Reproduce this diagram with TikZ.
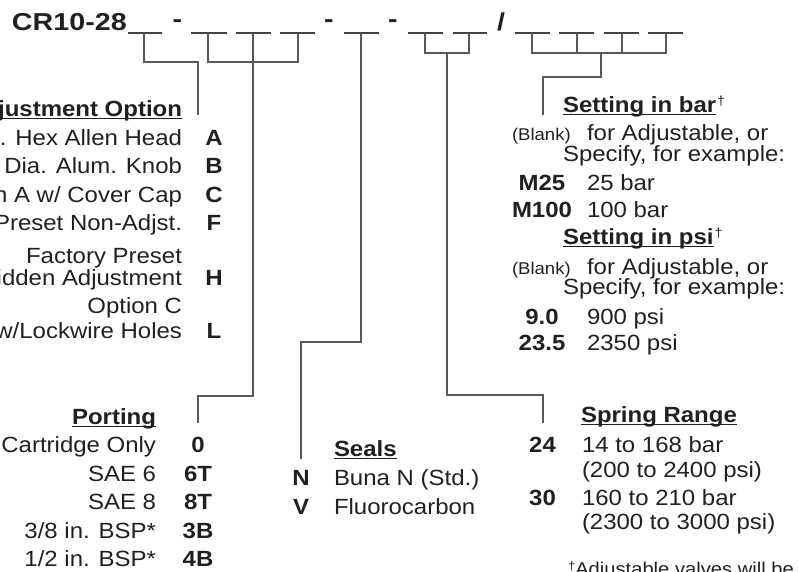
\documentclass[tikz,border=0pt]{standalone}
\usepackage{fontspec}
\setmainfont{Liberation Sans}[FakeStretch=1.09]
\newfontfamily\titlefont{Liberation Sans}[FakeStretch=1.17]
\definecolor{ink}{HTML}{231F20}
\definecolor{wire}{HTML}{58595B}
\begin{document}
\begin{tikzpicture}[x=1pt,y=-1pt,
  every node/.style={inner sep=0pt, outer sep=0pt, text=ink},
  tbody/.style={font=\fontsize{22}{26}\selectfont},
  tbold/.style={font=\fontsize{22}{26}\selectfont\bfseries},
  tsmall/.style={font=\fontsize{17}{20}\selectfont},
  tnote/.style={font=\fontsize{18.5}{22}\selectfont},
  ttitle/.style={font=\titlefont\fontsize{24.5}{28}\selectfont\bfseries},
  rt/.style={anchor=base east},
  lt/.style={anchor=base west},
  ct/.style={anchor=base},
  conn/.style={draw=wire, line width=1.5pt},
  blankln/.style={draw=ink!85, line width=1.4pt},
  uline/.style={draw=ink, line width=1.3pt},
  dag/.style={font=\fontsize{13}{15}\selectfont, anchor=base west}
]
\useasboundingbox (0,0) rectangle (798,571);
\clip (0,0) rectangle (798,571);

% ---------- title and blanks ----------
\node[ttitle, lt] (title) at (12,30.5) {CR10-28};
\node[ttitle, ct] (d1) at (177.5,27) {-};
\node[ttitle, ct] (d2) at (329,27) {-};
\node[ttitle, ct] (d3) at (393,27) {-};
\node[ttitle, ct] (sl) at (501,30.5) {/};

\foreach \a/\b in {128/162,191/227,236/271,280/315,344/379,408/443,453/487,515/550,559/594,604/639,648/683}
  \draw[blankln] (\a,33) -- (\b,33);

\coordinate (u1) at (144,33);
\coordinate (u2) at (208,33);
\coordinate (u3) at (253,33);
\coordinate (u4) at (298,33);
\coordinate (u5) at (361,33);
\coordinate (u6) at (425,33);
\coordinate (u7) at (469,33);
\coordinate (u8) at (532,33);
\coordinate (u9) at (577,33);
\coordinate (u10) at (622,33);
\coordinate (u11) at (666,33);
\coordinate (sprm) at (447,53);
\coordinate (setm) at (601,53);

\coordinate (adjt) at (198,115);
\coordinate (portt) at (198,423);
\coordinate (sealt) at (301,459);
\coordinate (sprt) at (543,423);
\coordinate (sett) at (543,115);

% ---------- connectors ----------
\draw[conn] (u1) -- ++(0,29) -| (adjt);
\draw[conn] (u2) -- ++(0,29) -| (u4);
\draw[conn] (u3) -- ++(0,363) -| (portt);
\draw[conn] (u5) -- ++(0,309) -| (sealt);
\draw[conn] (u6) -- ++(0,20) -| (u7);
\draw[conn] (sprm) -- ++(0,342) -| (sprt);
\draw[conn] (u8) -- ++(0,20) -| (u11);
\draw[conn] (u9) -- ++(0,20);
\draw[conn] (u10) -- ++(0,20);
\draw[conn] (setm) -- ++(0,24) -| (sett);

% ---------- Adjustment Option ----------
\node[tbold, rt] (adjh) at (182,116) {justment Option};
\draw[uline] ([yshift=-2.5pt]adjh.base west) -- ([yshift=-2.5pt]adjh.base east);
\node[tbody, rt] (a1) at (182,145) {n. Hex Allen Head};
\node[tbody, rt] (a2) at (182,173) {. Dia. Alum. Knob};
\node[tbody, rt] (a3) at (182,202) {n A w/ Cover Cap};
\node[tbody, rt] (a4) at (182,230) {Preset Non-Adjst.};
\node[tbody, rt] (a5) at (182,263) {Factory Preset};
\node[tbody, rt] (a6) at (182,285) {idden Adjustment};
\node[tbody, rt] (a7) at (182,313) {Option C};
\node[tbody, rt] (a8) at (182,338) {w/Lockwire Holes};
\node[tbold, ct] (ka) at (214,145) {A};
\node[tbold, ct] (kb) at (214,173) {B};
\node[tbold, ct] (kc) at (214,202) {C};
\node[tbold, ct] (kf) at (214,230) {F};
\node[tbold, ct] (kh) at (214,285) {H};
\node[tbold, ct] (kl) at (214,338) {L};

% ---------- Porting ----------
\node[tbold, rt] (porth) at (156,424) {Porting};
\draw[uline] ([yshift=-2.5pt]porth.base west) -- ([yshift=-2.5pt]porth.base east);
\node[tbody, rt] (p1) at (156,452) {Cartridge Only};
\node[tbody, rt] (p2) at (156,481) {SAE 6};
\node[tbody, rt] (p3) at (156,509) {SAE 8};
\node[tbody, rt] (p4) at (156,538) {3/8 in. BSP*};
\node[tbody, rt] (p5) at (156,566) {1/2 in. BSP*};
\node[tbold, ct] (k0) at (198,452) {0};
\node[tbold, ct] (k6t) at (198,481) {6T};
\node[tbold, ct] (k8t) at (198,509) {8T};
\node[tbold, ct] (k3b) at (198,538) {3B};
\node[tbold, ct] (k4b) at (198,566) {4B};

% ---------- Seals ----------
\node[tbold, lt] (sealh) at (334,456) {Seals};
\draw[uline] ([yshift=-2.5pt]sealh.base west) -- ([yshift=-2.5pt]sealh.base east);
\node[tbold, ct] (kn) at (301,485) {N};
\node[tbody, lt] (s1) at (334,485) {Buna N (Std.)};
\node[tbold, ct] (kv) at (301,514) {V};
\node[tbody, lt] (s2) at (334,514) {Fluorocarbon};

% ---------- Setting in bar ----------
\node[tbold, lt] (barh) at (563,112) {Setting in bar};
\draw[uline] ([yshift=-2.8pt]barh.base west) -- ([yshift=-2.8pt]barh.base east);
\node[dag] (bard) at ([xshift=1pt,yshift=7pt]barh.base east) {†};
\node[tsmall, lt] (b0) at (512,140) {(Blank)};
\node[tbody, lt] (b1) at (587,140) {for Adjustable, or};
\node[tbody, lt] (b2) at (563,161.5) {Specify, for example:};
\node[tbold, ct] (km25) at (542,190.5) {M25};
\node[tbody, lt] (b3) at (587,190.5) {25 bar};
\node[tbold, ct] (km100) at (542,217.5) {M100};
\node[tbody, lt] (b4) at (587,217.5) {100 bar};

% ---------- Setting in psi ----------
\node[tbold, lt] (psih) at (563,244) {Setting in psi};
\draw[uline] ([yshift=-2.8pt]psih.base west) -- ([yshift=-2.8pt]psih.base east);
\node[dag] (psid) at ([xshift=1pt,yshift=7pt]psih.base east) {†};
\node[tsmall, lt] (q0) at (512,274) {(Blank)};
\node[tbody, lt] (q1) at (587,274) {for Adjustable, or};
\node[tbody, lt] (q2) at (563,294.5) {Specify, for example:};
\node[tbold, ct] (k90) at (542,324) {9.0};
\node[tbody, lt] (q3) at (587,324) {900 psi};
\node[tbold, ct] (k235) at (542,350) {23.5};
\node[tbody, lt] (q4) at (587,350) {2350 psi};

% ---------- Spring Range ----------
\node[tbold, lt] (sprh) at (581,422) {Spring Range};
\draw[uline] ([yshift=-2.8pt]sprh.base west) -- ([yshift=-2.8pt]sprh.base east);
\node[tbold, ct] (k24) at (542.5,452) {24};
\node[tbody, lt] (r1) at (582,452) {14 to 168 bar};
\node[tbody, lt] (r2) at (582,477) {(200 to 2400 psi)};
\node[tbold, ct] (k30) at (542.5,505) {30};
\node[tbody, lt] (r3) at (582,505) {160 to 210 bar};
\node[tbody, lt] (r4) at (582,529) {(2300 to 3000 psi)};

% ---------- footnote ----------
\node[tnote, lt] (fn) at (568,575) {\raisebox{5pt}{\fontsize{12}{14}\selectfont †}Adjustable valves will be};
\end{tikzpicture}
\end{document}
